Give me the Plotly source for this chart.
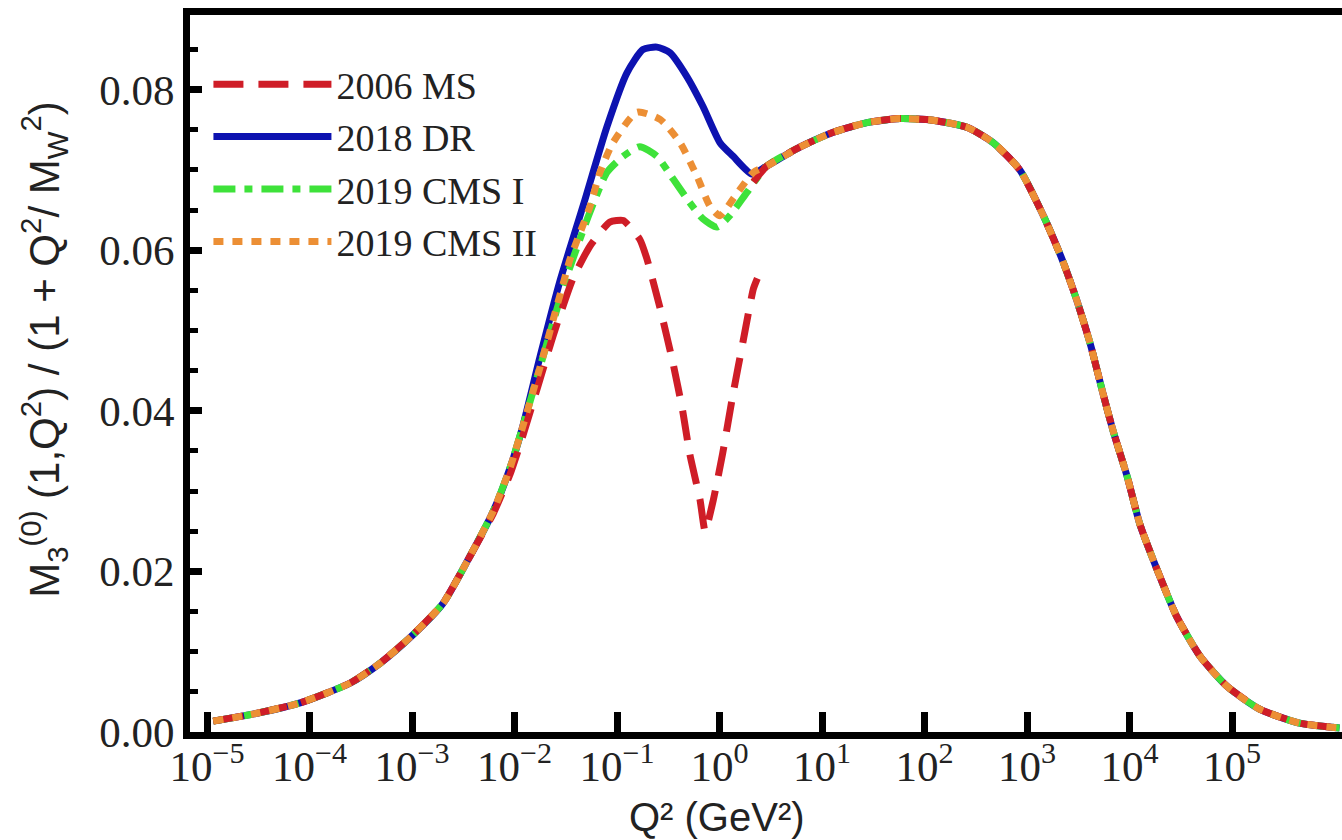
import plotly.graph_objects as go

# Q^2 grid points (GeV^2) and values of M3^(0)(1,Q^2)/(1+Q^2/M_W^2)

# shared low-Q^2 rise
q2_low = [1.15e-5, 2.8e-5, 8.1e-5, 2.5e-4, 4.9e-4, 1.02e-3, 2.0e-3, 3.5e-3,
          6.2e-3, 9.1e-3, 0.012, 0.0178, 0.024, 0.0324]
m3_low = [0.00136, 0.00223, 0.00363, 0.0061, 0.00858, 0.0121, 0.0160, 0.0214,
          0.0275, 0.0330, 0.0380, 0.0455, 0.0515, 0.0575]

# shared high-Q^2 part (perturbative region)
q2_high = [2.14, 2.9, 6.2, 12.9, 27.5, 57.5, 120, 263, 468, 851, 1445, 2240,
           3090, 4170, 5500, 6920, 9550, 12600, 18600, 28800, 49000, 89000,
           186000, 457000, 1.12e6]
m3_high = [0.0697, 0.0705, 0.0729, 0.0747, 0.0759, 0.0764, 0.0762, 0.0753,
           0.0734, 0.0700, 0.0643, 0.0586, 0.0536, 0.0482, 0.0422, 0.0375,
           0.0317, 0.0259, 0.0202, 0.0144, 0.0094, 0.0057, 0.00285, 0.0011,
           0.0005]

# 2006 MS: resonance region
q2_ms = [6.2e-3, 9.1e-3, 0.012, 0.0178, 0.024, 0.0372, 0.055, 0.085, 0.115,
         0.166, 0.195, 0.263, 0.355, 0.437, 0.513, 0.646, 0.724, 0.87, 1.07,
         1.35, 1.70, 2.14, 2.34]
m3_ms = [0.0272, 0.0322, 0.0368, 0.0440, 0.0495, 0.0565, 0.0606, 0.0635,
         0.0637, 0.0614, 0.0590, 0.0528, 0.0457, 0.0400, 0.0346, 0.0289,
         0.0250, 0.0289, 0.0346, 0.0420, 0.0487, 0.0552, 0.0565]
q2_ms_hi = [2.14]
m3_ms_hi = [0.0685]

# 2018 DR
q2_dr = [0.0178, 0.0278, 0.0466, 0.0798, 0.125, 0.179, 0.245, 0.329,
         0.482, 0.69, 1.01, 1.36, 2.07]
m3_dr = [0.0468, 0.0562, 0.0655, 0.0754, 0.0821, 0.0850, 0.0853,
         0.0846, 0.0816, 0.0779, 0.0734, 0.0717, 0.0695]

# 2019 CMS I
q2_c1 = [0.024, 0.0325, 0.0546, 0.0798, 0.115, 0.167, 0.245, 0.352, 0.482,
         0.69, 0.946, 1.26, 1.85]
m3_c1 = [0.0512, 0.0568, 0.0648, 0.0697, 0.0717, 0.0729, 0.0717, 0.0689,
         0.0664, 0.0639, 0.0629, 0.0643, 0.0672]

# 2019 CMS II
q2_c2 = [0.0348, 0.0546, 0.0682, 0.0914, 0.157, 0.263, 0.412, 0.603, 0.807,
         1.01, 1.36]
m3_c2 = [0.0589, 0.0655, 0.0697, 0.0734, 0.0772, 0.0763, 0.0734, 0.0692,
         0.0655, 0.0643, 0.0664]

names = ["2006 MS", "2018 DR", "2019 CMS I", "2019 CMS II"]
colors = ["#cf1d27", "#0d12b0", "#3ee23a", "#ec8f35"]

x_tickvals = [1e-5, 1e-4, 1e-3, 1e-2, 1e-1, 1, 10, 100, 1e3, 1e4, 1e5]
x_ticktext = ["10<sup>−5</sup>", "10<sup>−4</sup>", "10<sup>−3</sup>",
              "10<sup>−2</sup>", "10<sup>−1</sup>", "10<sup>0</sup>",
              "10<sup>1</sup>", "10<sup>2</sup>", "10<sup>3</sup>",
              "10<sup>4</sup>", "10<sup>5</sup>"]
y_tickvals = [0.0, 0.02, 0.04, 0.06, 0.08]
y_ticktext = ["0.00", "0.02", "0.04", "0.06", "0.08"]


def low_until(qmax):
    n = sum(1 for q in q2_low if q < qmax)
    return q2_low[:n], m3_low[:n]


W = 7
fig = go.Figure()

# blue solid underneath
lx, ly = low_until(0.0178)
fig.add_trace(go.Scatter(x=lx + q2_dr + q2_high[1:], y=ly + m3_dr + m3_high[1:],
                         mode="lines", name=names[1], legendrank=2,
                         line=dict(color=colors[1], width=W, shape="spline", smoothing=0.6)))
# green dash-dot
lx, ly = low_until(0.024)
fig.add_trace(go.Scatter(x=lx + q2_c1 + q2_high[1:], y=ly + m3_c1 + m3_high[1:],
                         mode="lines", name=names[2], legendrank=3,
                         line=dict(color=colors[2], width=W, dash="22px,9px,8px,9px",
                                   shape="spline", smoothing=0.6)))
# red dashed, with a break between the two regions
lx, ly = low_until(6.2e-3)
fig.add_trace(go.Scatter(x=lx + q2_ms + [None] + q2_ms_hi + q2_high[1:],
                         y=ly + m3_ms + [None] + m3_ms_hi + m3_high[1:],
                         mode="lines", name=names[0], legendrank=1, connectgaps=False,
                         line=dict(color=colors[0], width=W, dash="30px,15px",
                                   shape="spline", smoothing=0.5)))
# orange dotted on top
lx, ly = low_until(0.0348)
fig.add_trace(go.Scatter(x=lx + q2_c2 + q2_high, y=ly + m3_c2 + m3_high,
                         mode="lines", name=names[3], legendrank=4,
                         line=dict(color=colors[3], width=W, dash="10px,9px",
                                   shape="spline", smoothing=0.6)))

serif = "Liberation Serif, Times New Roman, serif"
sans = "Liberation Sans, Arial, sans-serif"

fig.update_layout(
    width=1342, height=840,
    margin=dict(l=190, r=0, t=15, b=108),
    plot_bgcolor="white", paper_bgcolor="white",
    showlegend=True,
    legend=dict(x=0.016, y=0.947, xanchor="left", yanchor="top",
                bgcolor="rgba(0,0,0,0)", itemwidth=118,
                font=dict(family=serif, size=38, color="#222"),
                traceorder="normal", tracegroupgap=0),
    xaxis=dict(type="log", range=[-5.166, 6.073],
               tickvals=x_tickvals, ticktext=x_ticktext,
               ticks="inside", ticklen=20, tickwidth=7, tickcolor="black",
               showline=True, linewidth=7, linecolor="black", mirror=True,
               showgrid=False, zeroline=False, ticklabelstandoff=-10,
               tickfont=dict(family=serif, size=43, color="#222")),
    yaxis=dict(range=[0.0, 0.0893],
               tickvals=y_tickvals, ticktext=y_ticktext,
               ticks="inside", ticklen=12, tickwidth=7, tickcolor="black",
               minor=dict(dtick=0.005, tick0=0, ticks="inside", ticklen=8,
                          tickwidth=5, tickcolor="black"),
               showline=True, linewidth=7, linecolor="black", mirror=False,
               showgrid=False, zeroline=False,
               tickfont=dict(family=serif, size=43, color="#222")),
    annotations=[
        dict(text="Q² (GeV²)", xref="paper", yref="paper",
             x=(717 - 190) / 1152, y=-0.118, xanchor="center", yanchor="middle",
             showarrow=False, font=dict(family=sans, size=40, color="#222")),
        dict(text="M<sub>3</sub><sup>(0)</sup> (1,Q<sup>2</sup>) / (1 + Q<sup>2</sup>/ M<sub>W</sub><sup>2</sup>)",
             xref="paper", yref="paper", x=(44 - 190) / 1152, y=0.533,
             xanchor="center", yanchor="middle", textangle=-90,
             showarrow=False, font=dict(family=sans, size=42, color="#222")),
    ],
)

fig.write_html("out.html")
